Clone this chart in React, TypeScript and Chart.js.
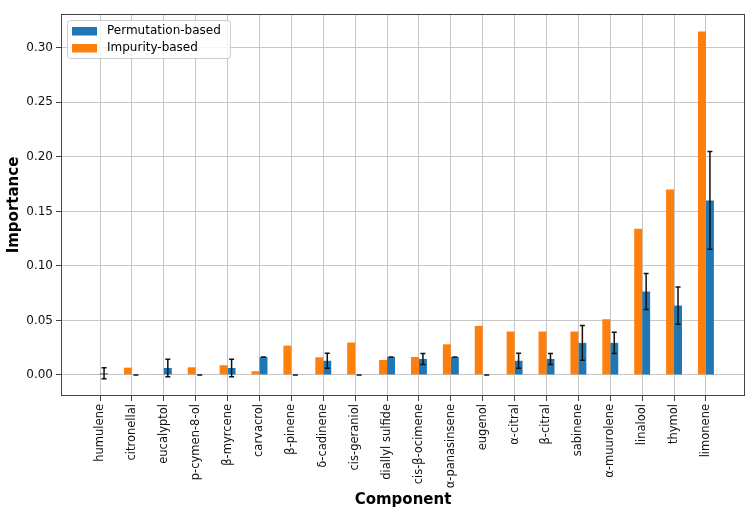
import React, { useEffect, useRef } from 'react';
import { Chart, registerables } from 'chart.js';

Chart.register(...registerables);

const components = [
  'humulene', 'citronellal', 'eucalyptol', 'p-cymen-8-ol', 'β-myrcene', 'carvacrol',
  'β-pinene', 'δ-cadinene', 'cis-geraniol', 'diallyl sulfide', 'cis-β-ocimene',
  'α-panasinsene', 'eugenol', 'α-citral', 'β-citral', 'sabinene', 'α-muurolene',
  'linalool', 'thymol', 'limonene',
];

const impurityBased = [
  0.0003, 0.0067, 0.0006, 0.0070, 0.0089, 0.0034, 0.0269, 0.0162, 0.0297, 0.0137,
  0.0165, 0.0281, 0.0450, 0.0398, 0.0398, 0.0398, 0.0511, 0.1340, 0.1700, 0.3150,
];

const permutationMean = [
  0.0015, 0.0, 0.0064, 0.0, 0.0064, 0.0165, 0.0, 0.0130, 0.0, 0.0165,
  0.0147, 0.0165, 0.0, 0.0130, 0.0147, 0.0294, 0.0294, 0.0765, 0.0636, 0.1600,
];

const permutationStd = [
  0.0050, 0.0, 0.0080, 0.0, 0.0080, 0.0, 0.0, 0.0069, 0.0, 0.0,
  0.0050, 0.0, 0.0, 0.0069, 0.0050, 0.0160, 0.0098, 0.0165, 0.0170, 0.0448,
];

const yTickValues = [0, 0.05, 0.1, 0.15, 0.2, 0.25, 0.3];

const BLUE = '#1f77b4';
const ORANGE = '#ff7f0e';
const FONT = "'DejaVu Sans', sans-serif";

export default function App() {
  const ref = useRef<HTMLCanvasElement>(null);

  useEffect(() => {
    if (!ref.current) return;

    const overlay = {
      id: 'overlay',
      afterDraw(chart: any) {
        const ctx = chart.ctx;
        const meta = chart.getDatasetMeta(1);
        const ys = chart.scales.y;
        ctx.save();
        // error bars
        ctx.strokeStyle = '#111';
        ctx.lineWidth = 1.5;
        permutationMean.forEach((m: number, i: number) => {
          const el = meta.data[i];
          const x = el.x;
          const top = ys.getPixelForValue(m + permutationStd[i]);
          const bot = ys.getPixelForValue(m - permutationStd[i]);
          ctx.beginPath();
          ctx.moveTo(x, top);
          ctx.lineTo(x, bot);
          ctx.moveTo(x - 2.5, top);
          ctx.lineTo(x + 2.5, top);
          ctx.moveTo(x - 2.5, bot);
          ctx.lineTo(x + 2.5, bot);
          ctx.stroke();
        });
        // frame
        const a = chart.chartArea;
        ctx.strokeStyle = '#444';
        ctx.lineWidth = 1;
        ctx.strokeRect(a.left + 0.5, a.top + 0.5, a.right - a.left - 1, a.bottom - a.top - 1);
        // legend
        const lx = a.left + 6;
        const ly = a.top + 6;
        const lw = 163;
        const lh = 38;
        ctx.beginPath();
        (ctx as any).roundRect(lx + 0.5, ly + 0.5, lw, lh, 3);
        ctx.fillStyle = 'rgba(255,255,255,0.8)';
        ctx.fill();
        ctx.strokeStyle = '#cccccc';
        ctx.stroke();
        const items = [chart.data.datasets[1], chart.data.datasets[0]];
        ctx.font = `12px ${FONT}`;
        ctx.textBaseline = 'middle';
        items.forEach((ds: any, k: number) => {
          const cy = ly + 11 + k * 17;
          ctx.fillStyle = ds.backgroundColor;
          ctx.fillRect(lx + 5, cy - 4, 25, 8.5);
          ctx.fillStyle = '#000';
          ctx.fillText(ds.label, lx + 40, cy);
        });
        ctx.restore();
      },
    };

    const chart = new Chart(ref.current, {
      type: 'bar',
      data: {
        datasets: [
          {
            label: 'Impurity-based',
            data: components.map((_, i) => ({ x: i, y: impurityBased[i] })),
            backgroundColor: ORANGE,
            borderWidth: 0,
            categoryPercentage: 0.5,
            barPercentage: 1,
          },
          {
            label: 'Permutation-based',
            data: components.map((_, i) => ({ x: i, y: permutationMean[i] })),
            backgroundColor: BLUE,
            borderWidth: 0,
            categoryPercentage: 0.5,
            barPercentage: 1,
          },
        ],
      },
      options: {
        animation: false,
        responsive: false,
        devicePixelRatio: 1,
        layout: { padding: { left: 0, right: 9, top: 14, bottom: 0 } },
        plugins: {
          legend: { display: false },
          tooltip: { enabled: false },
        },
        scales: {
          x: {
            type: 'linear',
            min: -1.225,
            max: 20.225,
            offset: false,
            z: 1,
            grid: {
              offset: false,
              color: '#c6c6c6',
              lineWidth: 1,
              tickColor: '#444',
              tickLength: 5,
              drawTicks: true,
            },
            border: { display: false },
            afterBuildTicks: (axis: any) => {
              axis.ticks = components.map((_, i) => ({ value: i }));
            },
            afterFit: (scale: any) => {
              scale.height = 120;
            },
            ticks: {
              autoSkip: false,
              minRotation: 90,
              maxRotation: 90,
              padding: 3,
              color: '#111',
              font: { family: FONT, size: 11.5 },
              callback: (v: any) => components[Math.round(Number(v))] ?? '',
            },
            title: {
              display: true,
              text: 'Component',
              color: '#000',
              font: { family: FONT, size: 15, weight: 'bold' },
              padding: { top: 4, bottom: 7 },
            },
          },
          y: {
            type: 'linear',
            min: -0.0193,
            max: 0.331,
            z: 1,
            grid: {
              color: '#c6c6c6',
              lineWidth: 1,
              tickColor: '#444',
              tickLength: 5,
            },
            border: { display: false },
            afterBuildTicks: (axis: any) => {
              axis.ticks = yTickValues.map((v) => ({ value: v }));
            },
            afterFit: (scale: any) => {
              scale.width = 61;
            },
            ticks: {
              padding: 3,
              color: '#111',
              font: { family: FONT, size: 12 },
              callback: (v: any) => Number(v).toFixed(2),
            },
            title: {
              display: true,
              text: 'Importance',
              color: '#000',
              font: { family: FONT, size: 15, weight: 'bold' },
              padding: { top: 5, bottom: 4 },
            },
          },
        },
      },
      plugins: [overlay],
    } as any);

    return () => chart.destroy();
  }, []);

  return (
    <div style={{ position: 'fixed', left: 0, top: 0, width: 754, height: 516, background: '#fff' }}>
      <canvas ref={ref} width={754} height={516} style={{ display: 'block' }} />
    </div>
  );
}
